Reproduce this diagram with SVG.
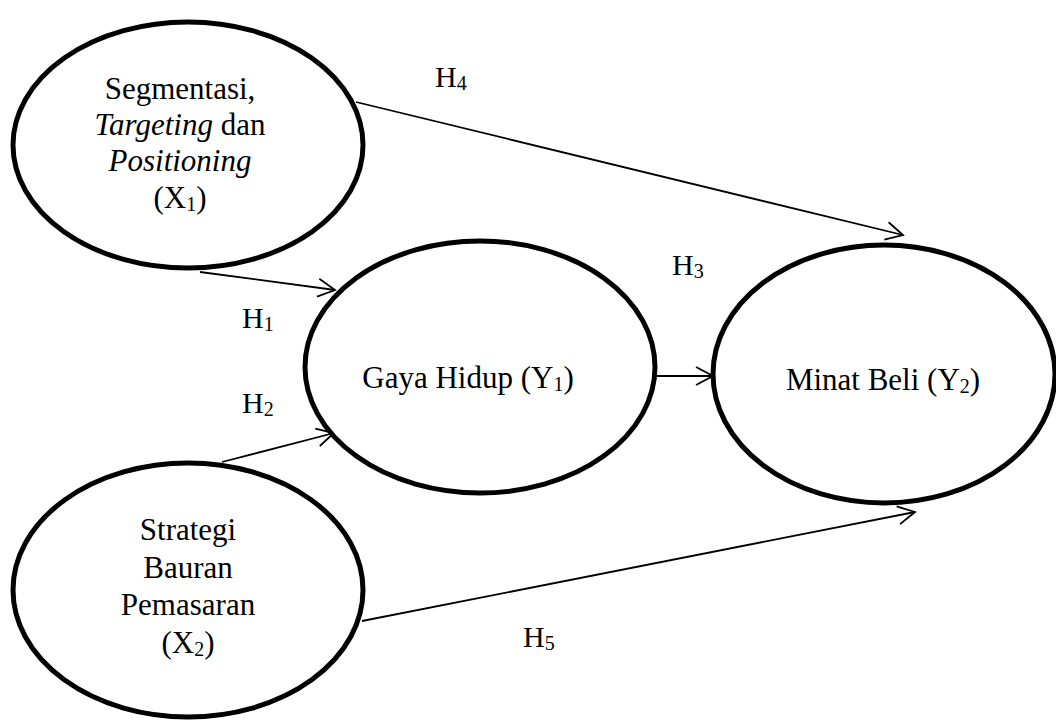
<svg xmlns="http://www.w3.org/2000/svg" width="1056" height="720" viewBox="0 0 1056 720">
<style>
.node{fill:#fff;stroke:#000;stroke-width:5}
.t{font-family:"Liberation Serif","Times New Roman",serif;font-size:31px;fill:#000;text-anchor:middle}
.h{font-family:"Liberation Serif","Times New Roman",serif;font-size:30px;fill:#000}
.sub{font-size:20px}
.edge{stroke:#000;stroke-width:1.8;fill:none;marker-end:url(#arr)}
</style>
<defs>
<marker id="arr" viewBox="-20 -11 22 22" refX="0" refY="0" markerWidth="22" markerHeight="22" markerUnits="userSpaceOnUse" orient="auto">
<path d="M-17,-9 L0,0 L-17,9" fill="none" stroke="#000" stroke-width="1.8"/>
</marker>
</defs>
<rect width="1056" height="720" fill="#fff"/>
<g id="connectors">
<line class="edge" x1="356" y1="102" x2="903" y2="235"/>
<line class="edge" x1="200" y1="272" x2="335" y2="290"/>
<line class="edge" x1="222" y1="462" x2="334" y2="433"/>
<line class="edge" x1="656" y1="376" x2="713" y2="376"/>
<line class="edge" x1="362" y1="621" x2="915" y2="512"/>
</g>
<g id="labels">
<text class="h" x="435" y="87">H<tspan class="sub" dy="3">4</tspan></text>
<text class="h" x="672" y="275">H<tspan class="sub" dy="3">3</tspan></text>
<text class="h" x="242" y="328">H<tspan class="sub" dy="3">1</tspan></text>
<text class="h" x="242" y="413">H<tspan class="sub" dy="3">2</tspan></text>
<text class="h" x="523" y="647">H<tspan class="sub" dy="3">5</tspan></text>
</g>
<g id="x1">
<ellipse class="node" cx="188" cy="145" rx="175" ry="123"/>
<text class="t" x="180" y="99">Segmentasi,</text>
<text class="t" x="180" y="135"><tspan font-style="italic">Targeting</tspan> dan</text>
<text class="t" x="180" y="171" font-style="italic">Positioning</text>
<text class="t" x="180" y="208">(X<tspan class="sub" dy="3">1</tspan><tspan dy="-3">)</tspan></text>
</g>
<g id="x2">
<ellipse class="node" cx="188" cy="590" rx="175" ry="127"/>
<text class="t" x="188" y="540">Strategi</text>
<text class="t" x="188" y="578">Bauran</text>
<text class="t" x="188" y="615">Pemasaran</text>
<text class="t" x="188" y="653">(X<tspan class="sub" dy="3">2</tspan><tspan dy="-3">)</tspan></text>
</g>
<g id="y1">
<ellipse class="node" cx="480" cy="367" rx="175" ry="126"/>
<text class="t" x="468" y="388">Gaya Hidup (Y<tspan class="sub" dy="3">1</tspan><tspan dy="-3">)</tspan></text>
</g>
<g id="y2">
<ellipse class="node" cx="884" cy="374" rx="171" ry="129"/>
<text class="t" x="883" y="390">Minat Beli (Y<tspan class="sub" dy="3">2</tspan><tspan dy="-3">)</tspan></text>
</g>
</svg>
